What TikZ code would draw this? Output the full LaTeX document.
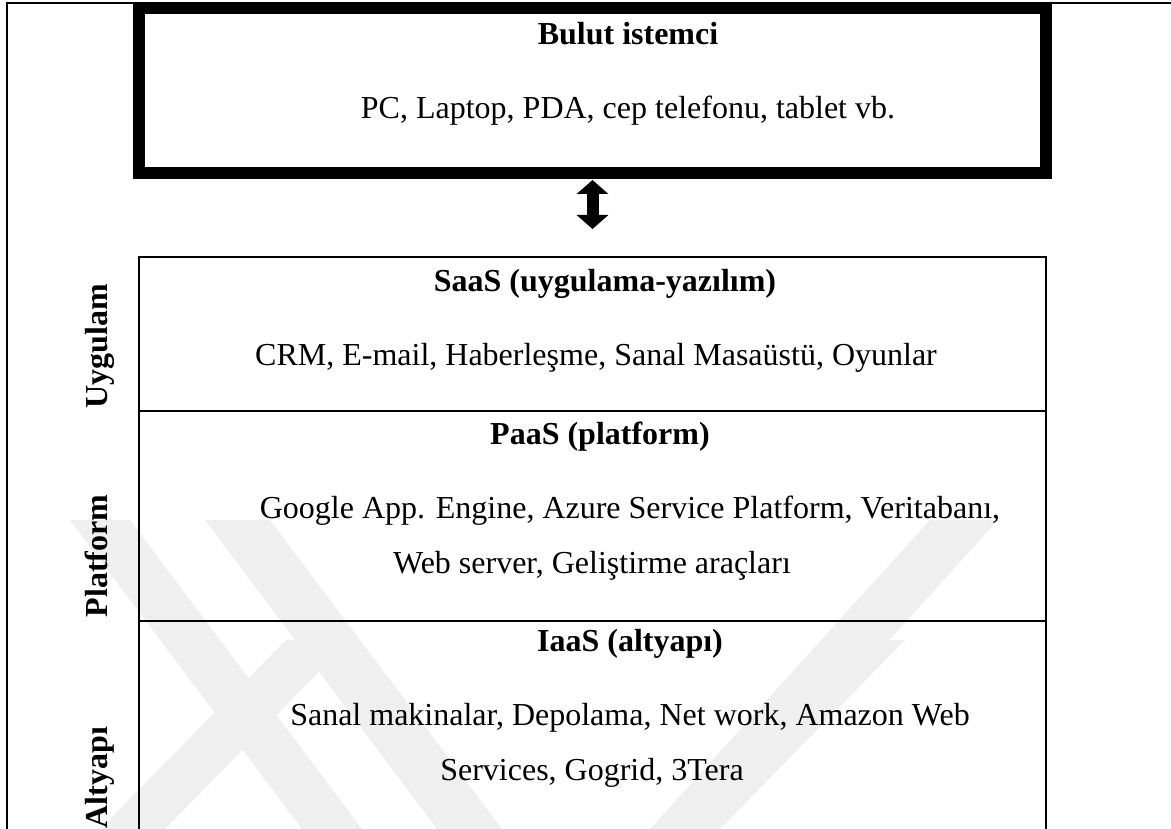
\documentclass[tikz,border=0pt]{standalone}
\usepackage{fontspec}
\setmainfont{Liberation Serif}
\usepackage{tikz}
\usetikzlibrary{arrows.meta,positioning}
\definecolor{wm}{HTML}{EFEFEF}
\tikzset{
  cbox/.style={draw,line width=12pt,minimum width=907pt,minimum height=165pt,inner sep=0pt,outer sep=0pt},
  layer/.style={draw,line width=2pt,minimum width=907pt,inner sep=0pt,outer sep=0pt},
  ttl/.style={anchor=base,inner sep=0pt,font=\fontsize{32}{38}\selectfont\bfseries},
  txt/.style={anchor=base,inner sep=0pt,font=\fontsize{32}{38}\selectfont},
  side/.style={ttl,rotate=90},
  arr/.style={{Triangle[width=31pt,length=14pt]}-{Triangle[width=31pt,length=14pt]},line width=12pt},
  band/.style={fill=wm,draw=none},
}
\begin{document}
\begin{tikzpicture}[x=1pt,y=-1pt]
\useasboundingbox (0,0) rectangle (1171,829);
\clip (0,0) rectangle (1171,829);
% watermark stripes
\fill[band] (70,520) -- (130,520) -- (362,829) -- (302,829) -- cycle;
\fill[band] (205,520) -- (270,520) -- (502,829) -- (437,829) -- cycle;
\fill[band] (930,520) -- (998,520) -- (718,829) -- (650,829) -- cycle;
\fill[band] (286,640) -- (350,640) -- (165,829) -- (100,829) -- cycle;
\fill[band] (840,640) -- (905,640) -- (720,829) -- (655,829) -- cycle;
% frame
\draw[line width=2pt] (7,829) -- (7,3) -- (1171,3);
% client
\node[cbox] (client) at (592.5,90.5) {};
\node[ttl] (ctitle) at (628,45) {Bulut istemci};
\node[txt] (cdev) at (628,119) {PC, Laptop, PDA, cep telefonu, tablet vb.};
% service layers
\node[layer,minimum height=154pt] (saas) at (592.5,334) {};
\node[layer,minimum height=210pt,below=0pt of saas] (paas) {};
\node[layer,minimum height=240pt,below=0pt of paas] (iaas) {};
\draw[arr,shorten <=7pt,shorten >=28pt] (client.south) -- (saas.north);
\node[ttl] (stitle) at (605,292) {SaaS (uygulama-yazılım)};
\node[txt] (sapps) at (596,366) {CRM, E-mail, Haberleşme, Sanal Masaüstü, Oyunlar};
\node[ttl] (ptitle) at (600,444) {PaaS (platform)};
\node[txt] (papps1) at (630,518) {Google App. Engine, Azure Service Platform, Veritabanı,};
\node[txt] (papps2) at (592,573) {Web server, Geliştirme araçları};
\node[ttl] (ititle) at (630,651) {IaaS (altyapı)};
\node[txt] (iapps1) at (630,725) {Sanal makinalar, Depolama, Net work, Amazon Web};
\node[txt] (iapps2) at (592,780) {Services, Gogrid, 3Tera};
% side labels
\node[side] (lapp) at (107,346.5) {Uygulam};
\node[side] (lplat) at (107,556) {Platform};
\node[side] (linf) at (107,777.5) {Altyapı};
\end{tikzpicture}
\end{document}
